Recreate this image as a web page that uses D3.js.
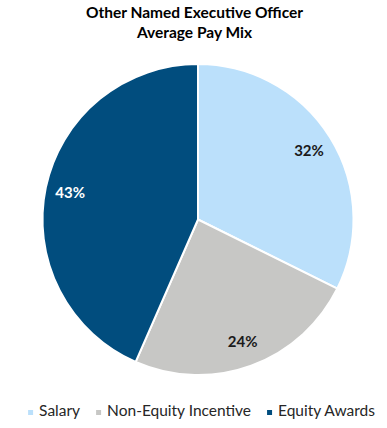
<!DOCTYPE html>
<html>
<head>
<meta charset="utf-8">
<script src="https://cdn.jsdelivr.net/npm/d3@7"></script>
<style>
  body { margin: 0; background: #fff; }
  text { font-family: Lato, "Open Sans", sans-serif; }
</style>
</head>
<body>
<div id="chart"></div>
<script>
// chart data
let categories = ["Salary", "Non-Equity Incentive", "Equity Awards"];
let values = [32, 24, 43];
let colors = ["#BBE0FB", "#C7C7C5", "#014D7E"];
let labelColors = ["#1a1a1a", "#1a1a1a", "#ffffff"];
let titleLines = ["Other Named Executive Officer", "Average Pay Mix"];

let svgWidth = 387;
let svgHeight = 428;

let cx = 198;
let cy = 219.5;
let radius = 155.5;

let svg = d3.select("#chart")
  .append("svg")
  .attr("width", svgWidth)
  .attr("height", svgHeight);

// title
svg.append("g")
  .selectAll("text")
  .data(titleLines)
  .enter()
  .append("text")
  .attr("x", svgWidth / 2 + 1)
  .attr("y", (d, i) => 18 + i * 20)
  .attr("text-anchor", "middle")
  .style("font-size", "15.5px")
  .style("font-weight", "bold")
  .attr("fill", "#000")
  .text(d => d);

// pie
let pie = d3.pie().sort(null).value(d => d);
let arcs = pie(values);

let arc = d3.arc().innerRadius(0).outerRadius(radius);
let labelArc = d3.arc().innerRadius(radius * 0.84).outerRadius(radius * 0.84);

let pieGroup = svg.append("g")
  .attr("transform", `translate(${cx}, ${cy})`);

pieGroup.selectAll("path")
  .data(arcs)
  .enter()
  .append("path")
  .attr("d", arc)
  .attr("fill", (d, i) => colors[i])
  .attr("stroke", "#fff")
  .attr("stroke-width", 2)
  .attr("stroke-linejoin", "round");

pieGroup.selectAll(".sliceLabel")
  .data(arcs)
  .enter()
  .append("text")
  .attr("class", "sliceLabel")
  .attr("transform", d => `translate(${labelArc.centroid(d)})`)
  .attr("text-anchor", "middle")
  .attr("dy", "0.35em")
  .style("font-size", "15px")
  .style("font-weight", "bold")
  .attr("fill", (d, i) => labelColors[i])
  .text(d => d.data + "%");

// legend
let legend = svg.append("g");
let items = legend.selectAll("g")
  .data(categories)
  .enter()
  .append("g");

items.append("rect")
  .attr("width", 5)
  .attr("height", 5)
  .attr("y", -6)
  .attr("fill", (d, i) => colors[i]);

items.append("text")
  .attr("x", 11)
  .style("font-size", "15.5px")
  .attr("fill", "#262626")
  .text(d => d);

let xPos = 0;
items.each(function () {
  let g = d3.select(this);
  g.attr("transform", `translate(${xPos}, 0)`);
  let w = g.select("text").node().getComputedTextLength();
  xPos += 11 + w + 16;
});
let totalWidth = xPos - 16;
legend.attr("transform", `translate(${(svgWidth - totalWidth) / 2 + 8}, 416)`);
</script>
</body>
</html>
